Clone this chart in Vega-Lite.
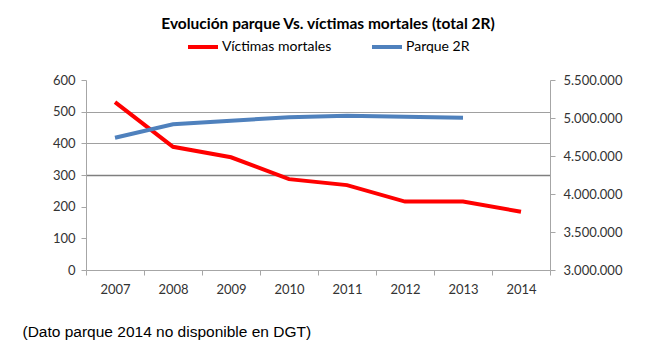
{
  "$schema": "https://vega.github.io/schema/vega-lite/v6.json",
  "width": 464,
  "height": 190,
  "autosize": {"type": "none"},
  "padding": {"left": 86, "top": 80, "right": 104, "bottom": 84},
  "background": "white",
  "config": {
    "locale": {"number": {"decimal": ",", "thousands": ".", "grouping": [3], "currency": ["", " €"]}},
    "view": {"stroke": null},
    "font": "Lato"
  },
  "title": {
    "text": "Evolución parque Vs. víctimas mortales (total 2R)",
    "font": "Lato",
    "fontSize": 15.5,
    "fontWeight": "bold",
    "color": "#000000",
    "anchor": "middle",
    "dx": 10,
    "offset": -2
  },
  "data": {
    "values": [
      {"year": "2007", "serie": "Víctimas mortales", "value": 530},
      {"year": "2008", "serie": "Víctimas mortales", "value": 389},
      {"year": "2009", "serie": "Víctimas mortales", "value": 356},
      {"year": "2010", "serie": "Víctimas mortales", "value": 287},
      {"year": "2011", "serie": "Víctimas mortales", "value": 268},
      {"year": "2012", "serie": "Víctimas mortales", "value": 216},
      {"year": "2013", "serie": "Víctimas mortales", "value": 216},
      {"year": "2014", "serie": "Víctimas mortales", "value": 184},
      {"year": "2007", "serie": "Parque 2R", "value": 4741000},
      {"year": "2008", "serie": "Parque 2R", "value": 4917000},
      {"year": "2009", "serie": "Parque 2R", "value": 4965000},
      {"year": "2010", "serie": "Parque 2R", "value": 5009000},
      {"year": "2011", "serie": "Parque 2R", "value": 5030000},
      {"year": "2012", "serie": "Parque 2R", "value": 5017000},
      {"year": "2013", "serie": "Parque 2R", "value": 5004000}
    ]
  },
  "encoding": {
    "x": {
      "field": "year",
      "type": "ordinal",
      "bandPosition": 0.5,
      "scale": {"type": "band", "paddingInner": 0, "paddingOuter": 0},
      "axis": {
        "title": "(Dato parque 2014 no disponible en DGT)",
        "titleFont": "Liberation Sans",
        "titleFontSize": 15.5,
        "titleFontWeight": "normal",
        "titleColor": "#000000",
        "titleX": -64,
        "titleY": 61,
        "titleAlign": "left",
        "titleBaseline": "middle",
        "labelAngle": 0,
        "tickBand": "extent",
        "domainColor": "#a6a6a6",
        "tickColor": "#a6a6a6",
        "tickSize": 5,
        "labelPadding": 8,
        "labelFont": "Lato",
        "labelFontSize": 13,
        "labelColor": "#333333",
        "grid": false
      }
    },
    "color": {
      "field": "serie",
      "type": "nominal",
      "scale": {"domain": ["Víctimas mortales", "Parque 2R"], "range": ["#FF0000", "#4F81BD"]},
      "legend": {
        "orient": "none",
        "legendX": 100,
        "legendY": -50,
        "direction": "horizontal",
        "title": null,
        "padding": 0,
        "symbolType": "stroke",
        "symbolStrokeWidth": 4,
        "symbolSize": 900,
        "labelFont": "Lato",
        "labelFontSize": 14,
        "labelColor": "#000000",
        "labelOffset": 2,
        "columnPadding": 32
      }
    }
  },
  "layer": [
    {
      "transform": [{"filter": "datum.serie == 'Víctimas mortales'"}],
      "mark": {"type": "line", "strokeWidth": 4},
      "encoding": {
        "y": {
          "field": "value",
          "type": "quantitative",
          "scale": {"domain": [0, 600], "nice": false, "zero": true},
          "axis": {
            "title": null,
            "values": [0, 100, 200, 300, 400, 500, 600],
            "grid": true,
            "gridColor": {"condition": {"test": "datum.value == 300", "value": "#7f7f7f"}, "value": "#a0a0a0"},
            "gridWidth": {"condition": {"test": "datum.value == 300", "value": 1.5}, "value": 1},
            "gridOpacity": {"condition": {"test": "datum.value >= 300 && datum.value <= 500", "value": 1}, "value": 0},
            "domainColor": "#a6a6a6",
            "tickColor": "#a6a6a6",
            "tickSize": 5,
            "labelFont": "Lato",
            "labelFontSize": 13,
            "labelColor": "#333333",
            "labelPadding": 6
          }
        }
      }
    },
    {
      "transform": [{"filter": "datum.serie == 'Parque 2R'"}],
      "mark": {"type": "line", "strokeWidth": 4},
      "encoding": {
        "y": {
          "field": "value",
          "type": "quantitative",
          "scale": {"domain": [3000000, 5500000], "nice": false, "zero": false},
          "axis": {
            "title": null,
            "orient": "right",
            "values": [3000000, 3500000, 4000000, 4500000, 5000000, 5500000],
            "format": ",.0f",
            "grid": false,
            "domainColor": "#a6a6a6",
            "tickColor": "#a6a6a6",
            "tickSize": 5,
            "labelFont": "Lato",
            "labelFontSize": 13,
            "labelColor": "#333333",
            "labelPadding": 8
          }
        }
      }
    }
  ],
  "resolve": {"scale": {"y": "independent"}}
}
